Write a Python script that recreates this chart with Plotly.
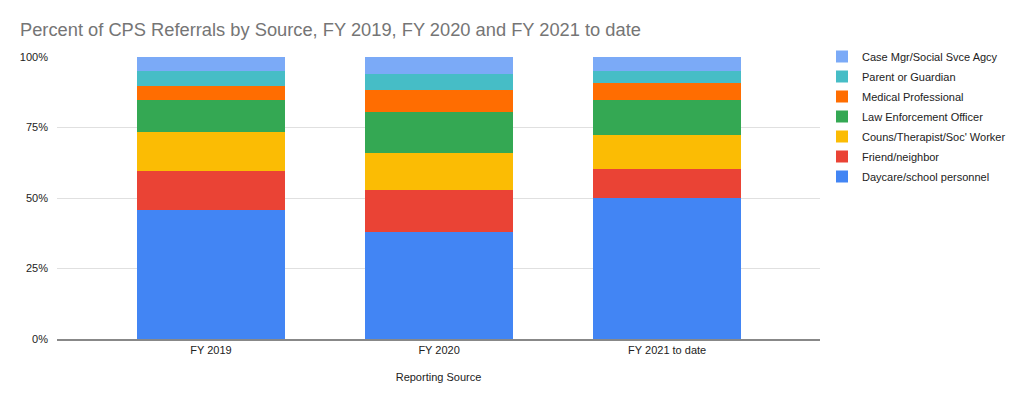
import plotly.graph_objects as go

# Fiscal years on the x-axis
years = ['FY 2019', 'FY 2020', 'FY 2021 to date']

# Percent of referrals per reporting source
daycare = [45.9, 38.1, 50.2]
friend = [13.6, 14.8, 10.3]
counselor = [13.9, 13.0, 11.9]
law = [11.2, 14.8, 12.5]
medical = [5.1, 7.6, 5.8]
parent = [5.3, 5.8, 4.4]
case_mgr = [5.0, 6.0, 5.0]

series = [
    ('Daycare/school personnel', daycare, '#4285F4'),
    ('Friend/neighbor', friend, '#EA4335'),
    ("Couns/Therapist/Soc' Worker", counselor, '#FBBC04'),
    ('Law Enforcement Officer', law, '#34A853'),
    ('Medical Professional', medical, '#FF6D01'),
    ('Parent or Guardian', parent, '#46BDC6'),
    ('Case Mgr/Social Svce Agcy', case_mgr, '#7BAAF7'),
]

# page body has an 8px margin, so the figure is a little smaller than the window
W, H = 1015, 395
ML, MR, MT, MB = 45, 203, 49, 64
PW, PH = W - ML - MR, H - MT - MB

fig = go.Figure()
for i, (name, vals, color) in enumerate(series):
    # top of the stack goes first in the legend
    fig.add_trace(go.Bar(
        x=years, y=vals, name=name,
        legendgroup=f'g{i}', legendrank=len(series) - i,
        marker=dict(color=color, line=dict(width=0)),
    ))

fig.update_layout(
    barmode='stack',
    barnorm='percent',
    bargap=0.35,
    width=W, height=H,
    margin=dict(l=ML, r=MR, t=MT, b=MB),
    paper_bgcolor='white',
    plot_bgcolor='white',
    font=dict(family='Arial, Liberation Sans, sans-serif', size=11, color='#222222'),
    title=dict(
        text='Percent of CPS Referrals by Source, FY 2019, FY 2020 and FY 2021 to date',
        font=dict(size=18.3, color='#757575'),
        x=12 / W, xanchor='left', xref='container',
        y=1 - 22 / H, yanchor='middle', yref='container',
    ),
    legend=dict(
        traceorder='grouped',
        tracegroupgap=1,
        x=(814 - ML) / PW, xanchor='left',
        y=1 + (MT - 34) / PH, yanchor='top',
        font=dict(size=11, color='#222222'),
    ),
    showlegend=True,
)

fig.update_xaxes(
    range=[-0.675, 2.67],
    title_text='Reporting Source',
    title_font=dict(size=11, color='#222222'),
    title_standoff=18,
    showgrid=False,
    showline=True, linecolor='#888888', linewidth=1.5,
    ticks='', tickfont=dict(size=11, color='#222222'),
)
fig.update_yaxes(
    range=[0, 100],
    tickvals=[0, 25, 50, 75, 100],
    ticktext=['0%', '25%', '50%', '75%', '100%'],
    showgrid=True, gridcolor='#e0e0e0', gridwidth=1,
    zeroline=False,
    ticks='', ticklabelstandoff=8,
    tickfont=dict(size=11, color='#222222'),
)

fig.write_html('out.html')
